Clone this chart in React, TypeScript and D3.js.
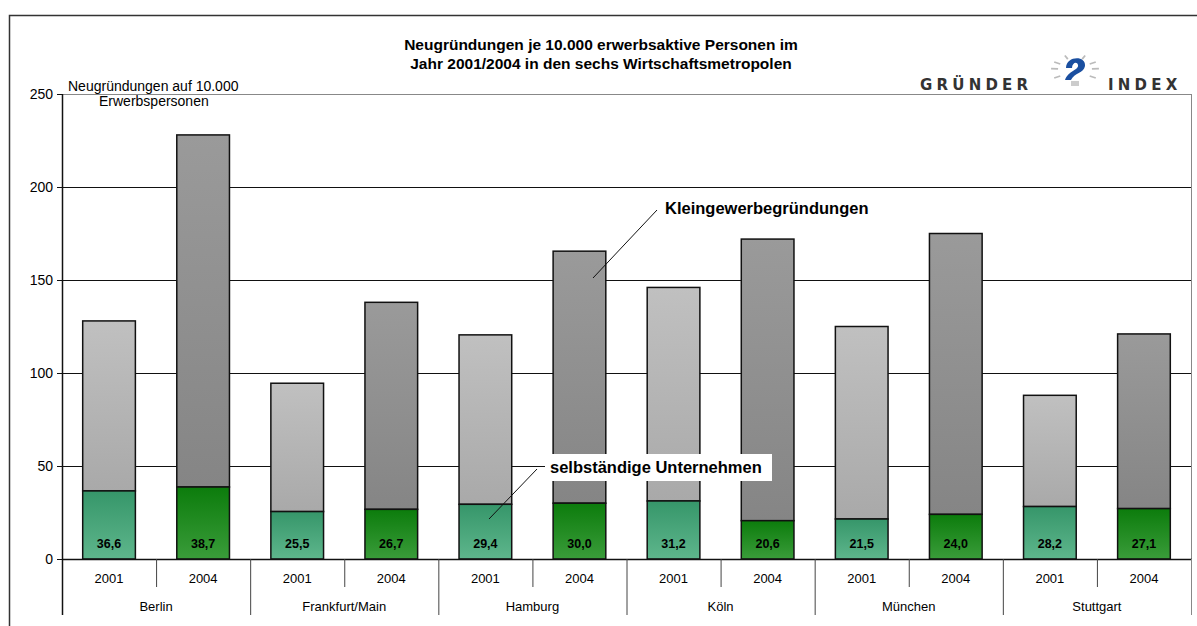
import React from "react";
import * as d3 from "d3";

const cities = ["Berlin", "Frankfurt/Main", "Hamburg", "Köln", "München", "Stuttgart"];
const years = ["2001", "2004"];
// selbständige Unternehmen (green part), per city: [2001, 2004]
const firms = [
  [36.6, 38.7],
  [25.5, 26.7],
  [29.4, 30.0],
  [31.2, 20.6],
  [21.5, 24.0],
  [28.2, 27.1],
];
// total Neugründungen (top of grey bar), per city: [2001, 2004]
const totals = [
  [128, 228],
  [94.5, 138],
  [120.5, 165.5],
  [146, 172],
  [125, 175],
  [88, 121],
];
const yTicks = [0, 50, 100, 150, 200, 250];

const W = 1197;
const H = 626;
const left = 62;
const right = 1191;
const top = 94;
const bottom = 559;

const App = () => {
  const rows = cities.flatMap((c, i) =>
    years.map((yr, j) => ({ key: c + yr, city: c, year: yr, firm: firms[i][j], total: totals[i][j] }))
  );

  const x = d3.scaleBand().domain(rows.map(d => d.key)).range([left, right]).paddingInner(0.44).paddingOuter(0.22);
  const bandAll = d3.scaleBand().domain(rows.map(d => d.key)).range([left, right]);
  const y = d3.scaleLinear().domain([0, 250]).range([bottom, top]);
  const step = bandAll.step();
  const fmt = (v: number) => v.toFixed(1).replace(".", ",");

  return (
    <svg width={W} height={H} style={{ display: "block", position: "absolute", left: 0, top: 0 }}
      fontFamily="Liberation Sans, Arial, sans-serif">
      <defs>
        <linearGradient id="g01" x1="0" y1="0" x2="0" y2="1">
          <stop offset="0" stopColor="#36966a" />
          <stop offset="1" stopColor="#5eb68c" />
        </linearGradient>
        <linearGradient id="g04" x1="0" y1="0" x2="0" y2="1">
          <stop offset="0" stopColor="#0c7c0c" />
          <stop offset="1" stopColor="#3a9c3a" />
        </linearGradient>
        <linearGradient id="k01" x1="0" y1="0" x2="0" y2="1">
          <stop offset="0" stopColor="#c0c0c0" />
          <stop offset="1" stopColor="#a9a9a9" />
        </linearGradient>
        <linearGradient id="k04" x1="0" y1="0" x2="0" y2="1">
          <stop offset="0" stopColor="#9a9a9a" />
          <stop offset="1" stopColor="#858585" />
        </linearGradient>
      </defs>
      <rect width={W} height={H} fill="#fff" />
      {/* outer frame */}
      <path d={`M9.5,${H} V15.5 H${W}`} fill="none" stroke="#333" strokeWidth={1.5} />

      {/* title */}
      <text x={601} y={50} textAnchor="middle" fontSize={15.5} fontWeight="bold">
        Neugründungen je 10.000 erwerbsaktive Personen im
      </text>
      <text x={601} y={69} textAnchor="middle" fontSize={15.5} fontWeight="bold">
        Jahr 2001/2004 in den sechs Wirtschaftsmetropolen
      </text>

      {/* logo */}
      <text x={920} y={90} fontSize={15} fontWeight="bold" fill="#333" letterSpacing={4.2}
        fontFamily="DejaVu Sans, sans-serif">GRÜNDER</text>
      <text x={1108} y={90} fontSize={15} fontWeight="bold" fill="#333" letterSpacing={4.2}
        fontFamily="DejaVu Sans, sans-serif">INDEX</text>
      <g transform="translate(1075,70)" stroke="#bbb" strokeWidth={1.8}>
        {[-150, -115, -65, -30, 30, 150, 185, -5].map(a => {
          const r = (a * Math.PI) / 180;
          return <line key={a} x1={Math.cos(r) * 17} y1={Math.sin(r) * 12} x2={Math.cos(r) * 24} y2={Math.sin(r) * 16} />;
        })}
        <path d="M-9,-2 C-9,-14 11,-15 10,-4 C9,3 -1,3 -4,10 L-10,10 C-7,1 4,0 3,-5 C2,-9 -3,-7 -3,-2 Z" fill="#1a4fa0" stroke="none" />
        <rect x={-4} y={11} width={8} height={5} fill="#ccc" stroke="none" />
      </g>

      {/* axis title */}
      <text x={68} y={91} fontSize={14}>Neugründungen auf 10.000</text>
      <text x={99} y={106} fontSize={14}>Erwerbspersonen</text>

      {/* gridlines */}
      {yTicks.map(t => (
        <g key={t}>
          {t > 0 && (
            <line x1={left} x2={right} y1={y(t) + 0.5} y2={y(t) + 0.5} stroke={t === 250 ? "#888" : "#111"} strokeWidth={1} />
          )}
          <line x1={left - 5} x2={left} y1={y(t) + 0.5} y2={y(t) + 0.5} stroke="#111" />
          <text x={left - 9} y={y(t) + 5} textAnchor="end" fontSize={14}>{t}</text>
        </g>
      ))}
      <line x1={right + 0.5} x2={right + 0.5} y1={top} y2={bottom} stroke="#888" />

      {/* bars */}
      {rows.map(d => (
        <g key={d.key}>
          <rect x={x(d.key)} y={y(d.total)} width={x.bandwidth()} height={y(d.firm) - y(d.total)}
            fill={d.year === "2001" ? "url(#k01)" : "url(#k04)"} stroke="#111" strokeWidth={1.5} />
          <rect x={x(d.key)} y={y(d.firm)} width={x.bandwidth()} height={y(0) - y(d.firm)}
            fill={d.year === "2001" ? "url(#g01)" : "url(#g04)"} stroke="#111" strokeWidth={1.5} />
          <text x={(x(d.key) as number) + x.bandwidth() / 2} y={548} textAnchor="middle" fontSize={12.5} fontWeight="bold">
            {fmt(d.firm)}
          </text>
          <text x={(bandAll(d.key) as number) + step / 2} y={583} textAnchor="middle" fontSize={13}>{d.year}</text>
        </g>
      ))}

      {/* axes */}
      <line x1={left + 0.5} x2={left + 0.5} y1={top} y2={615} stroke="#111" strokeWidth={1.5} />
      <line x1={left} x2={right + 1} y1={bottom + 0.5} y2={bottom + 0.5} stroke="#111" strokeWidth={1.5} />
      {rows.map((d, i) => (
        <line key={"s" + d.key} x1={(bandAll(d.key) as number) + step + 0.5} x2={(bandAll(d.key) as number) + step + 0.5}
          y1={bottom} y2={i % 2 === 0 ? 587 : 615} stroke={i === rows.length - 1 ? "#888" : "#444"} />
      ))}
      {cities.map(c => (
        <text key={c} x={(bandAll(c + "2001") as number) + step} y={611} textAnchor="middle" fontSize={13}>{c}</text>
      ))}

      {/* annotations */}
      <line x1={657} y1={210} x2={593} y2={278} stroke="#111" />
      <text x={665} y={214} fontSize={16.5} fontWeight="bold">Kleingewerbegründungen</text>
      <rect x={545} y={454} width={227} height={27} fill="#fff" />
      <line x1={537} y1={469} x2={489} y2={519} stroke="#111" />
      <text x={550} y={473} fontSize={16.5} fontWeight="bold">selbständige Unternehmen</text>
    </svg>
  );
};

export default App;
